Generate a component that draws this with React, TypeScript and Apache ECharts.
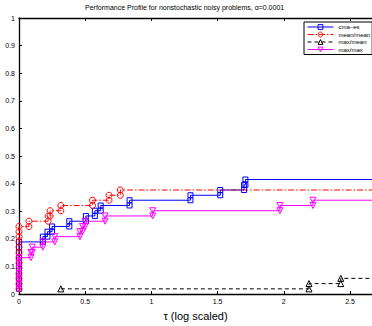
import React, { useEffect, useRef } from "react";
import * as echarts from "echarts";

const titleText = "Performance Profile for nonstochastic noisy problems, \u03b1=0.0001";
const seriesNames = ["cma\u2013es", "mean/mean", "max/mean", "max/max"];
const xTicks = [0, 0.5, 1, 1.5, 2, 2.5];

// cma-es (stair vertices: tau, rho)
const cmaTau = [0, 0, 0, 0, 0, 0, 0, 0, 0, 0, 0.18, 0.18, 0.215, 0.215, 0.25, 0.25, 0.38, 0.38, 0.505, 0.505, 0.573, 0.573, 0.617, 0.617, 0.835, 0.835, 1.295, 1.295, 1.52, 1.52, 1.70, 1.70, 1.71, 1.71, 3.0];
const cmaRho = [0.019, 0.038, 0.057, 0.075, 0.094, 0.113, 0.132, 0.151, 0.17, 0.189, 0.189, 0.208, 0.208, 0.226, 0.226, 0.245, 0.245, 0.264, 0.264, 0.283, 0.283, 0.302, 0.302, 0.321, 0.321, 0.34, 0.34, 0.358, 0.358, 0.377, 0.377, 0.396, 0.396, 0.415, 0.415];

// mean/mean
const meanMeanTau = [0, 0, 0, 0, 0, 0, 0, 0, 0, 0, 0, 0, 0, 0.075, 0.075, 0.22, 0.22, 0.235, 0.235, 0.316, 0.316, 0.555, 0.555, 0.68, 0.68, 0.765, 0.765, 3.0];
const meanMeanRho = [0.019, 0.038, 0.057, 0.075, 0.094, 0.113, 0.132, 0.151, 0.17, 0.189, 0.208, 0.226, 0.245, 0.245, 0.264, 0.264, 0.283, 0.283, 0.302, 0.302, 0.321, 0.321, 0.34, 0.34, 0.358, 0.358, 0.377, 0.377];

// max/mean
const maxMeanTau = [0.316, 2.19, 2.19, 2.43, 2.43, 3.0];
const maxMeanRho = [0.019, 0.019, 0.038, 0.038, 0.057, 0.057];

// max/max
const maxMaxTau = [0, 0, 0, 0, 0, 0, 0, 0.09, 0.09, 0.1, 0.1, 0.18, 0.18, 0.27, 0.27, 0.46, 0.46, 0.48, 0.48, 0.5, 0.5, 0.65, 0.65, 1.01, 1.01, 1.97, 1.97, 2.22, 2.22, 3.0];
const maxMaxRho = [0.019, 0.038, 0.057, 0.075, 0.094, 0.113, 0.132, 0.132, 0.151, 0.151, 0.17, 0.17, 0.189, 0.189, 0.208, 0.208, 0.226, 0.226, 0.245, 0.245, 0.264, 0.264, 0.283, 0.283, 0.302, 0.302, 0.321, 0.321, 0.34, 0.34];

const zip = (a: number[], b: number[]) => a.map((v, i) => [v, b[i]]);

const FONT = "Liberation Sans, Arial, Helvetica, sans-serif";

export default function App() {
  const ref = useRef<HTMLDivElement>(null);
  useEffect(() => {
    if (!ref.current) return;
    const chart = echarts.init(ref.current, undefined, { renderer: "svg" });
    const hollow = (c: string) => ({ color: "rgba(255,255,255,0)", borderColor: c, borderWidth: 1 });
    const option: any = {
      animation: false,
      backgroundColor: "#fff",
      textStyle: { fontFamily: FONT },
      title: {
        text: titleText,
        left: 85,
        top: 4,
        padding: 0,
        textStyle: { fontSize: 7, fontWeight: "normal", color: "#000", fontFamily: FONT },
      },
      legend: {
        orient: "vertical",
        left: 304,
        top: 22,
        padding: [2, 2, 2, 3],
        itemGap: 1.5,
        itemWidth: 26,
        itemHeight: 6,
        borderColor: "#000",
        borderWidth: 1,
        backgroundColor: "#fff",
        lineStyle: { width: 1 },
        itemStyle: { color: "rgba(255,255,255,0)", borderWidth: 1 },
        textStyle: { fontSize: 6, color: "#000", fontFamily: FONT },
        data: seriesNames,
      },
      grid: { left: 19, top: 18, bottom: 26, width: 357, containLabel: false },
      xAxis: [
        {
          type: "value",
          min: 0,
          max: 2.666,
          interval: 0.5,
          name: "\u03c4 (log scaled)",
          nameLocation: "middle",
          nameGap: 14,
          nameTextStyle: { fontSize: 11, color: "#000", fontFamily: FONT },
          axisLine: { onZero: false, lineStyle: { color: "#000", width: 1.3 } },
          axisTick: { inside: true, length: 3, lineStyle: { color: "#000" } },
          axisLabel: {
            fontSize: 7,
            color: "#000",
            margin: 4,
            showMaxLabel: false,
            formatter: (v: number) => (xTicks.indexOf(v) >= 0 ? String(v) : ""),
          },
          splitLine: { show: false },
        },
        {
          type: "value",
          position: "top",
          min: 0,
          max: 2.666,
          interval: 0.5,
          axisLine: { onZero: false, lineStyle: { color: "#000", width: 1.3 } },
          axisTick: { inside: true, length: 3, lineStyle: { color: "#000" } },
          axisLabel: { show: false },
          splitLine: { show: false },
        },
      ],
      yAxis: {
        type: "value",
        min: 0,
        max: 1,
        interval: 0.1,
        axisLine: { onZero: false, lineStyle: { color: "#000", width: 1.3 } },
        axisTick: { inside: true, length: 3, lineStyle: { color: "#000" } },
        axisLabel: { fontSize: 7, color: "#000", margin: 4 },
        splitLine: { show: false },
      },
      series: [
        {
          name: seriesNames[0],
          type: "line",
          data: zip(cmaTau, cmaRho),
          symbol: "rect",
          symbolSize: 5,
          lineStyle: { color: "#0000ff", width: 1 },
          itemStyle: hollow("#0000ff"),
          color: "#0000ff",
        },
        {
          name: seriesNames[1],
          type: "line",
          data: zip(meanMeanTau, meanMeanRho),
          symbol: "circle",
          symbolSize: 6,
          lineStyle: { color: "#ff0000", width: 1, type: [6, 2, 1.5, 2] },
          itemStyle: hollow("#ff0000"),
          color: "#ff0000",
        },
        {
          name: seriesNames[2],
          type: "line",
          data: zip(maxMeanTau, maxMeanRho),
          symbol: "triangle",
          symbolSize: 6,
          lineStyle: { color: "#000000", width: 1, type: [4, 3] },
          itemStyle: hollow("#000000"),
          color: "#000000",
        },
        {
          name: seriesNames[3],
          type: "line",
          data: zip(maxMaxTau, maxMaxRho),
          symbol: "path://M0,0 L10,0 L5,9 Z",
          symbolSize: 6,
          lineStyle: { color: "#ff00ff", width: 1 },
          itemStyle: hollow("#ff00ff"),
          color: "#ff00ff",
        },
      ],
    };
    chart.setOption(option);
    return () => chart.dispose();
  }, []);
  return (
    <div style={{ position: "absolute", left: 0, top: 0, width: 372, height: 326, overflow: "hidden" }}>
      <div ref={ref} style={{ width: 372, height: 326 }} />
    </div>
  );
}
